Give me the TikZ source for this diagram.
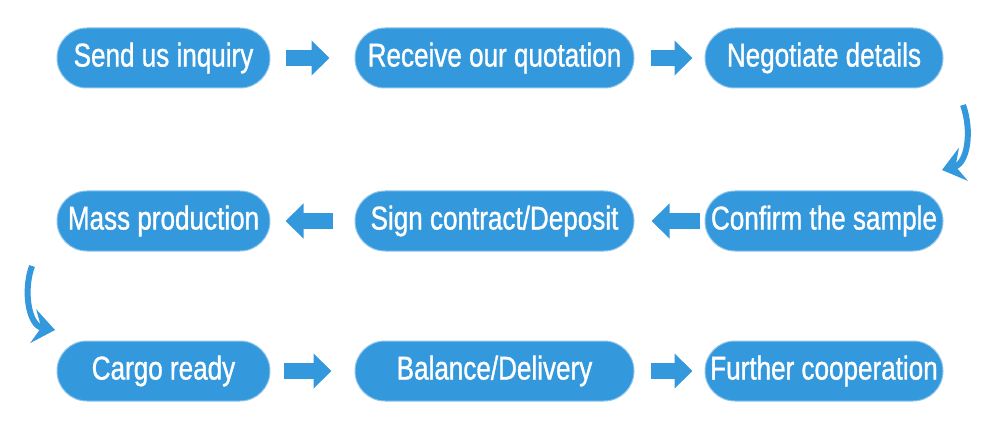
\documentclass[tikz,border=0pt]{standalone}
\usepackage{fontspec}
\setmainfont{Liberation Sans}[FakeStretch=0.79, FakeBold=1]
\usetikzlibrary{arrows.meta}
\definecolor{flowblue}{RGB}{52,152,220}
\tikzset{
  stepbox/.style={fill=flowblue, draw=flowblue!55!white, line width=1pt,
    rounded corners=29.9pt, minimum height=60pt, inner sep=1pt,
    text=white, font=\fontsize{33}{36}\selectfont},
  colA/.style={stepbox, minimum width=213pt},
  colB/.style={stepbox, minimum width=279pt},
  colC/.style={stepbox, minimum width=238pt},
  flow/.style={draw=flowblue, line width=16pt, -{Triangle[length=18pt,width=34pt]}},
  curl/.style={draw=flowblue, line width=6pt, -{Stealth[length=22pt,width=34pt,inset=8pt]}}
}
\begin{document}
\begin{tikzpicture}[x=1pt,y=-1pt]
 \useasboundingbox (0,0) rectangle (1000,430);
 % first row
 \node[colA] (send) at (163.5,58) {Send us inquiry};
 \node[colB] (quote) at (494.5,58) {Receive our quotation};
 \node[colC] (nego) at (824,58) {Negotiate details};
 % second row, right to left
 \node[colC] (confirm) at (824,221) {Confirm the sample};
 \node[colB] (sign) at (494.5,221) {Sign contract/Deposit};
 \node[colA] (mass) at (163.5,221) {Mass production};
 % third row
 \node[colA] (cargo) at (163.5,371) {Cargo ready};
 \node[colB] (balance) at (494.5,371) {Balance/Delivery};
 \node[colC] (further) at (824,371) {Further cooperation};
 \draw[flow, shorten <=15pt, shorten >=25pt] (send) -- (quote);
 \draw[flow, shorten <=16pt, shorten >=12pt] (quote) -- (nego);
 \draw[flow, shorten <=5pt, shorten >=17pt] (confirm) -- (sign);
 \draw[flow, shorten <=22pt, shorten >=15pt] (sign) -- (mass);
 \draw[flow, shorten <=13pt, shorten >=23pt] (cargo) -- (balance);
 \draw[flow, shorten <=16pt, shorten >=12pt] (balance) -- (further);
 % turns between the rows
 \coordinate (turnR) at (963,105);
 \coordinate (turnRend) at (942,170);
 \coordinate (turnL) at (32,266);
 \coordinate (turnLend) at (55,330);
 \draw[curl] (turnR) to[out=-70, in=15] (turnRend);
 \draw[curl] (turnL) to[out=-110, in=170] (turnLend);
\end{tikzpicture}
\end{document}
